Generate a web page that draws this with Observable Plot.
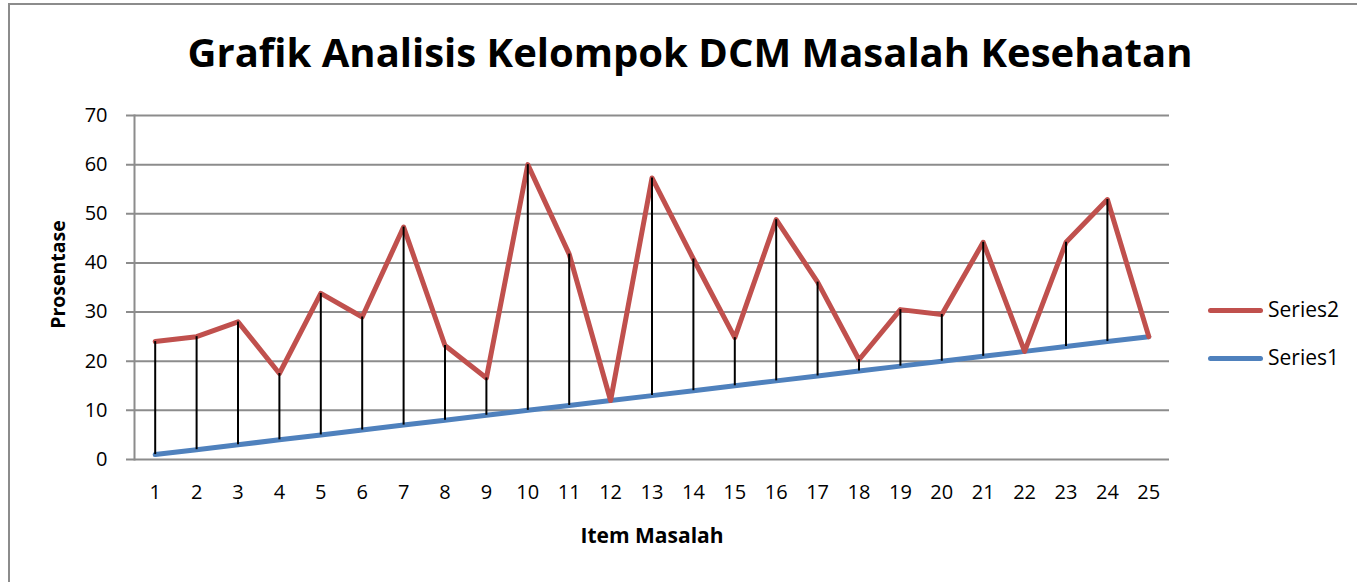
<!DOCTYPE html>
<html>
<head>
<meta charset="utf-8">
<script src="https://cdn.jsdelivr.net/npm/d3@7"></script>
<script src="https://cdn.jsdelivr.net/npm/@observablehq/plot@0.6"></script>
<style>
  body { margin: 0; background: #fff; }
  #wrap { position: relative; width: 1357px; height: 582px; overflow: hidden; font-family: "Open Sans", Lato, sans-serif; color: #000; }
  #title { position: absolute; left: 0; width: 1380px; top: 27.5px; text-align: center; font-weight: bold; font-size: 40px; line-height: 1.2; white-space: nowrap; }
  #chart { position: absolute; left: 0; top: 95px; }
  .bl { position: absolute; background: #8c8c8c; }
  .sw { position: absolute; left: 1208px; width: 55px; height: 5px; border-radius: 3px; }
  .lt { position: absolute; left: 1268px; font-size: 21px; line-height: 24px; white-space: nowrap; }
</style>
</head>
<body>
<div id="wrap">
  <div class="bl" style="left:8px;top:3px;width:2px;height:579px;"></div>
  <div class="bl" style="left:8px;top:3px;width:1349px;height:2px;"></div>
  <div id="title">Grafik Analisis Kelompok DCM Masalah Kesehatan</div>
  <div id="chart"></div>
  <div class="sw" style="top:308px;background:#C0504D;"></div>
  <div class="lt" style="top:297px;">Series2</div>
  <div class="sw" style="top:356px;background:#4F81BD;"></div>
  <div class="lt" style="top:345px;">Series1</div>
</div>
<script>
const items = [1,2,3,4,5,6,7,8,9,10,11,12,13,14,15,16,17,18,19,20,21,22,23,24,25];
const series1 = [1,2,3,4,5,6,7,8,9,10,11,12,13,14,15,16,17,18,19,20,21,22,23,24,25];
const series2 = [24,25,28,17.5,33.8,29,47.3,23.2,16.6,60,41.8,12,57.3,40.8,24.8,48.8,36.1,20.3,30.5,29.5,44.2,22,44.2,52.9,25];
const yTicks = [0,10,20,30,40,50,60,70];

const rows = items.map((it, i) => ({item: it, s1: series1[i], s2: series2[i]}));

const chart = Plot.plot({
  width: 1357,
  height: 487,
  marginLeft: 134,
  marginRight: 188,
  marginTop: 20,
  marginBottom: 123,
  x: {type: "point", domain: items, padding: 0.5, round: false},
  y: {domain: [0, 70]},
  style: {fontFamily: "'Open Sans', Lato, sans-serif", fontSize: "20px", color: "#000", background: "transparent", overflow: "visible"},
  marks: [
    Plot.ruleY(yTicks, {stroke: "#8c8c8c", strokeWidth: 2, insetLeft: -8}),
    Plot.frame({anchor: "left", stroke: "#8c8c8c", strokeWidth: 2}),
    Plot.axisY(yTicks, {tickSize: 0, tickPadding: 27, fontSize: 20, label: null}),
    Plot.axisX(items, {tickSize: 0, tickPadding: 25, fontSize: 20, label: null}),
    Plot.line(rows, {x: "item", y: "s1", stroke: "#4F81BD", strokeWidth: 5, strokeLinecap: "round", strokeLinejoin: "round"}),
    Plot.line(rows, {x: "item", y: "s2", stroke: "#C0504D", strokeWidth: 5, strokeLinecap: "round", strokeLinejoin: "round"}),
    Plot.ruleX(rows, {x: "item", y1: "s1", y2: "s2", stroke: "#000", strokeWidth: 2}),
    Plot.text(["Prosentase"], {text: d => d, frameAnchor: "left", textAnchor: "middle", lineAnchor: "middle", rotate: -90, dx: -76, dy: -13, fontWeight: "bold", fontSize: 19.5}),
    Plot.text(["Item Masalah"], {text: d => d, frameAnchor: "bottom", textAnchor: "middle", lineAnchor: "middle", dy: 77, fontWeight: "bold", fontSize: 21})
  ]
});
document.getElementById("chart").appendChild(chart);
</script>
</body>
</html>
